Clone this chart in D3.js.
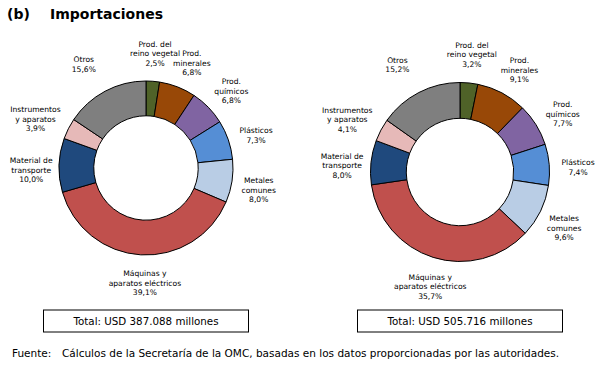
<!DOCTYPE html>
<html><head><meta charset="utf-8">
<script src="https://cdn.jsdelivr.net/npm/d3@7"></script>
<style>
body{margin:0;background:#fff;}
text{font-family:"DejaVu Sans",Verdana,sans-serif;fill:#000;}
</style></head>
<body><svg id="c" width="598" height="366"></svg>
<script>
// ---- data ----
const categories = [
  "Prod. del\nreino vegetal",
  "Prod.\nminerales",
  "Prod.\nquímicos",
  "Plásticos",
  "Metales\ncomunes",
  "Máquinas y\naparatos eléctricos",
  "Material de\ntransporte",
  "Instrumentos\ny aparatos",
  "Otros"
];
const sharesLeft  = [2.5, 6.8, 6.8, 7.3, 8.0, 39.1, 10.0, 3.9, 15.6];
const sharesRight = [3.2, 9.1, 7.7, 7.4, 9.6, 35.7, 8.0, 4.1, 15.2];
const totals = [387088, 505716];
const colors = ["#4f6228","#984807","#8064a2","#558ed5","#b9cde5","#c0504d","#1f497d","#e6b9b8","#7f7f7f"];

// ---- drawing ----
const loc = d3.formatLocale({decimal:",", thousands:".", grouping:[3], currency:["",""]});
const fPct = loc.format(".1f");
const fTot = loc.format(",d");
const svg = d3.select("#c");

svg.append("text").attr("x",7).attr("y",19).attr("font-size","14px").attr("font-weight","bold").text("(b)");
svg.append("text").attr("x",50).attr("y",19).attr("font-size","14px").attr("font-weight","bold").text("Importaciones");

const panels = [
  {values: sharesLeft,  total: totals[0], cx:146, cy:168, r:87},
  {values: sharesRight, total: totals[1], cx:460, cy:172, r:89.5}
];

const pie = d3.pie().sort(null).value(d=>d.v);
const lh = 9.5;

panels.forEach(p=>{
  const g = svg.append("g").attr("transform",`translate(${p.cx},${p.cy})`);
  const data = pie(p.values.map((v,i)=>({v, name:categories[i], color:colors[i]})));
  const arc = d3.arc().innerRadius(p.r*0.6).outerRadius(p.r);
  g.selectAll("path").data(data).join("path")
    .attr("d",arc).attr("fill",d=>d.data.color)
    .attr("stroke","#000").attr("stroke-width",1);
  data.forEach((d,i)=>{
    const mid = (d.startAngle+d.endAngle)/2;
    // label placement around the ring, spread a little away from the top
    const a = i===0 ? mid : mid + (mid < Math.PI ? 0.04 : -0.05);
    const lr = p.r*(mid > 1.5*Math.PI+0.2 ? 1.39 : 1.32);
    const x = lr*Math.sin(a), y = -lr*Math.cos(a);
    const lines = d.data.name.split("\n").concat([fPct(d.data.v)+"%"]);
    const y0 = y - (lines.length-1)*lh/2;
    const t = g.append("text").attr("text-anchor","middle").attr("font-size","7.6px");
    lines.forEach((l,j)=>{
      t.append("tspan").attr("x",x).attr("y",y0+j*lh+2.8).text(l);
    });
  });
  svg.append("rect").attr("x",p.cx-102.5).attr("y",310).attr("width",205).attr("height",22)
    .attr("fill","#fff").attr("stroke","#000").attr("stroke-width",1);
  svg.append("text").attr("x",p.cx).attr("y",324.5).attr("text-anchor","middle").attr("font-size","10.3px")
    .text("Total: USD "+fTot(p.total)+" millones");
});

svg.append("text").attr("x",12).attr("y",357).attr("font-size","10.5px").text("Fuente:");
svg.append("text").attr("x",62).attr("y",357).attr("font-size","10.5px")
  .text("Cálculos de la Secretaría de la OMC, basadas en los datos proporcionadas por las autoridades.");
</script></body></html>
